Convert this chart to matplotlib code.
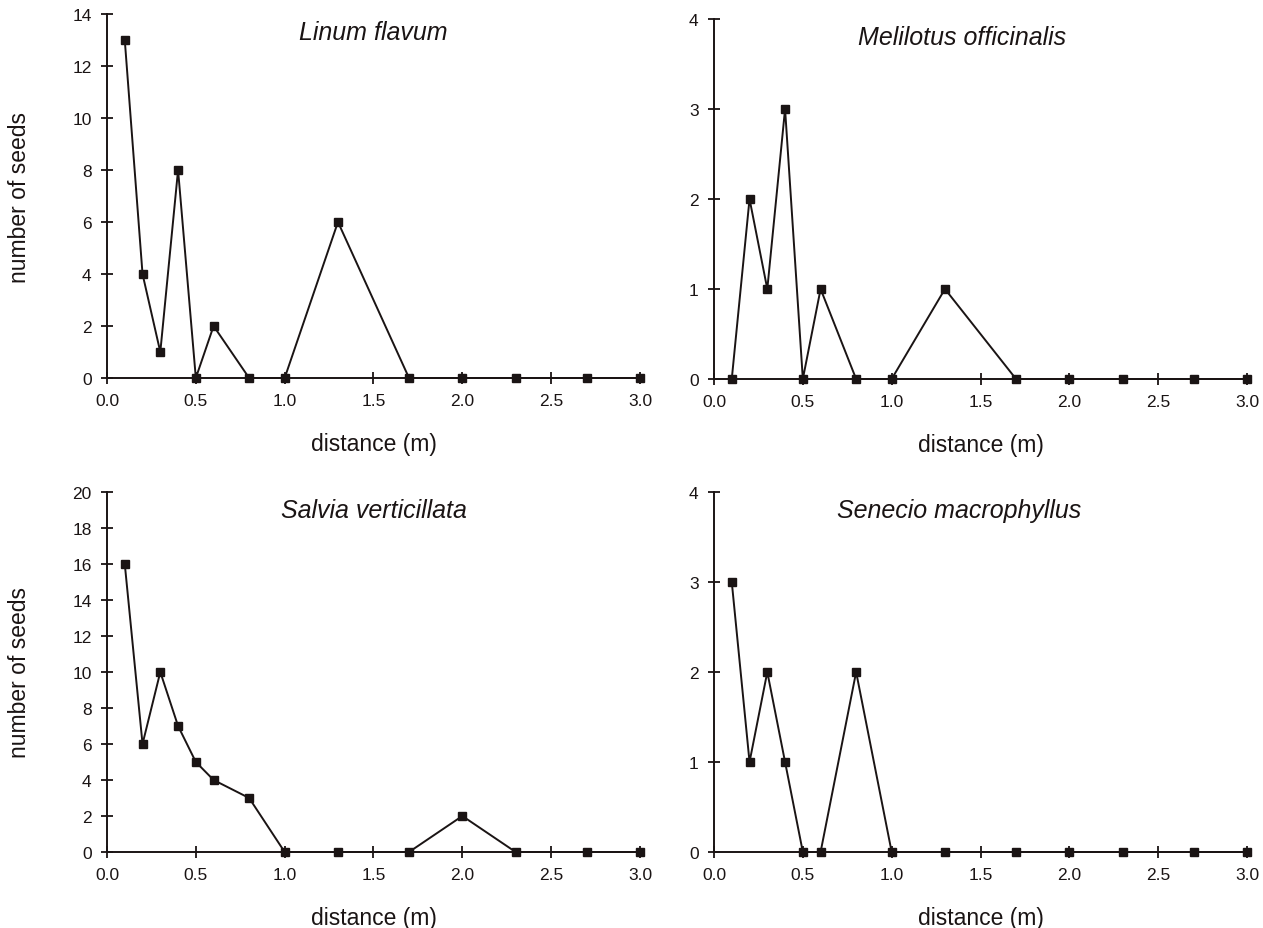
import matplotlib
matplotlib.use("Agg")
import matplotlib.pyplot as plt

plt.rcParams['font.family'] = ['Liberation Sans', 'DejaVu Sans']

distance = [0.1, 0.2, 0.3, 0.4, 0.5, 0.6, 0.8, 1.0, 1.3, 1.7, 2.0, 2.3, 2.7, 3.0]
linum = [13, 4, 1, 8, 0, 2, 0, 0, 6, 0, 0, 0, 0, 0]
melilotus = [0, 2, 1, 3, 0, 1, 0, 0, 1, 0, 0, 0, 0, 0]
salvia = [16, 6, 10, 7, 5, 4, 3, 0, 0, 0, 2, 0, 0, 0]
senecio = [3, 1, 2, 1, 0, 0, 2, 0, 0, 0, 0, 0, 0, 0]

species = ["Linum flavum", "Melilotus officinalis", "Salvia verticillata", "Senecio macrophyllus"]
series = [linum, melilotus, salvia, senecio]
ymax = [14, 4, 20, 4]
ystep = [2, 1, 2, 1]
xticks = [0.0, 0.5, 1.0, 1.5, 2.0, 2.5, 3.0]

fig = plt.figure(figsize=(12.63, 9.29), dpi=100)
W, H = 1263, 929
boxes = [
    (107, 15, 640, 379),
    (714, 20, 1247, 380),
    (107, 493, 640, 853),
    (714, 493, 1247, 853),
]
title_x = [0.5, 0.465, 0.5, 0.46]
col = '#1a1414'

for i, (name, vals, ym, ys, box) in enumerate(zip(species, series, ymax, ystep, boxes)):
    x0, y0, x1, y1 = box
    ax = fig.add_axes([x0 / W, 1 - y1 / H, (x1 - x0) / W, (y1 - y0) / H])
    ax.plot(distance, vals, color=col, lw=1.4, marker='s', ms=5.5,
            mfc=col, mec=col, clip_on=False, zorder=3)
    ax.set_xlim(0, 3.0)
    ax.set_ylim(0, ym)
    ax.set_xticks(xticks)
    ax.set_xticklabels([f"{t:.1f}" for t in xticks])
    ax.set_yticks(list(range(0, ym + 1, ys)))
    for s in ['top', 'right']:
        ax.spines[s].set_visible(False)
    for s in ['left', 'bottom']:
        ax.spines[s].set_linewidth(1.4)
        ax.spines[s].set_color(col)
    ax.tick_params(direction='inout', length=8, width=1.3, labelsize=12.5,
                   colors=col, pad=7)
    ax.text(title_x[i], 0.95, name, transform=ax.transAxes, ha='center', va='center',
            fontsize=18, style='italic', color=col)
    ax.set_xlabel("distance (m)", fontsize=16.5, labelpad=17, color=col)
    if i % 2 == 0:
        ax.set_ylabel("number of seeds", fontsize=16.5, labelpad=30, color=col)

fig.savefig("out.png", dpi=100)
